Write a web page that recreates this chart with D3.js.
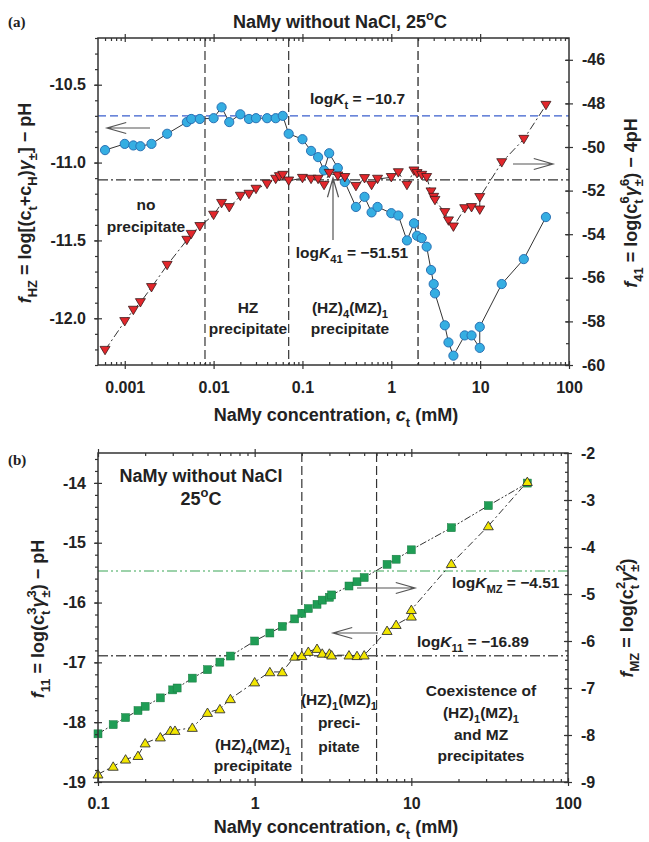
<!DOCTYPE html>
<html>
<head>
<meta charset="utf-8">
<script src="https://cdn.jsdelivr.net/npm/d3@7"></script>
<style>
body { margin: 0; background: #fff; }
text { font-family: "Liberation Sans", Arial, sans-serif; font-weight: bold; fill: #222; }
</style>
</head>
<body>
<script>
// ---- panel (a) data: NaMy concentration (mM) vs f_HZ (left) and f_41 (right)
var aHZConc = [0.0006, 0.001, 0.00125, 0.0015, 0.002, 0.003, 0.005, 0.0056, 0.007, 0.01, 0.0123, 0.015, 0.02, 0.025, 0.03, 0.04, 0.05, 0.06, 0.07, 0.1, 0.125, 0.15, 0.175, 0.2, 0.25, 0.3, 0.4, 0.5, 0.6, 0.7, 1.0, 1.2, 1.5, 1.8, 1.95, 2.2, 2.5, 2.8, 3.0, 3.1, 4.0, 4.4, 5.0, 6.7, 8.0, 9.9, 9.9, 17.5, 31, 55];
var aHZ = [-10.92, -10.88, -10.89, -10.895, -10.88, -10.815, -10.74, -10.72, -10.72, -10.715, -10.645, -10.74, -10.69, -10.72, -10.715, -10.715, -10.715, -10.70, -10.815, -10.85, -10.925, -10.965, -11.05, -10.94, -11.035, -11.125, -11.285, -11.22, -11.32, -11.285, -11.325, -11.34, -11.50, -11.39, -11.47, -11.485, -11.54, -11.69, -11.78, -11.84, -12.045, -12.155, -12.24, -12.11, -12.11, -12.19, -12.055, -11.78, -11.62, -11.35];
var a41Conc = [0.0006, 0.001, 0.00125, 0.0015, 0.002, 0.003, 0.005, 0.0056, 0.007, 0.01, 0.0123, 0.015, 0.02, 0.025, 0.03, 0.04, 0.05, 0.055, 0.06, 0.07, 0.1, 0.125, 0.15, 0.175, 0.2, 0.25, 0.3, 0.4, 0.5, 0.6, 0.7, 1.0, 1.2, 1.5, 1.8, 1.95, 2.2, 2.5, 2.8, 3.0, 3.1, 4.0, 4.4, 5.0, 6.7, 8.0, 9.9, 9.9, 17.5, 31, 55];
var a41 = [-59.32, -58.0, -57.48, -57.13, -56.44, -55.42, -54.27, -54.0, -53.64, -53.12, -52.58, -52.77, -52.25, -52.16, -51.93, -51.70, -51.47, -51.35, -51.29, -51.55, -51.43, -51.47, -51.47, -51.75, -51.2, -51.32, -51.39, -51.8, -51.44, -51.75, -51.47, -51.39, -51.17, -51.75, -51.09, -51.21, -51.29, -51.39, -52.05, -52.3, -52.44, -53.0, -53.38, -53.66, -52.82, -52.77, -52.88, -52.31, -50.71, -49.64, -48.08];
var aLogKt = -10.7, aLogK41 = -51.51;
var aBounds = [0.008, 0.07, 2];
var aTicksX = [0.001, 0.01, 0.1, 1, 10, 100];
var aTickLabelsX = ["0.001", "0.01", "0.1", "1", "10", "100"];
var aTicksL = [-12.0, -11.5, -11.0, -10.5];
var aTickLabelsL = ["-12.0", "-11.5", "-11.0", "-10.5"];
var aTicksR = [-60, -58, -56, -54, -52, -50, -48, -46];

// ---- panel (b) data: f_MZ (right, squares) and f_11 (left, triangles)
var bMZConc = [0.1, 0.125, 0.15, 0.18, 0.2, 0.25, 0.3, 0.32, 0.4, 0.5, 0.6, 0.7, 1.0, 1.25, 1.5, 1.8, 2.0, 2.2, 2.5, 2.7, 3.0, 3.1, 4.0, 4.5, 5.0, 7.0, 8.0, 10, 18, 31, 55];
var bMZ = [-7.975, -7.78, -7.63, -7.48, -7.39, -7.21, -7.04, -7.0, -6.79, -6.61, -6.45, -6.32, -6.0, -5.83, -5.69, -5.53, -5.41, -5.31, -5.22, -5.13, -5.07, -5.02, -4.83, -4.74, -4.65, -4.37, -4.26, -4.06, -3.59, -3.12, -2.64];
var b11Conc = [0.1, 0.125, 0.15, 0.18, 0.2, 0.25, 0.29, 0.31, 0.4, 0.5, 0.6, 0.7, 1.0, 1.25, 1.5, 1.8, 2.0, 2.2, 2.5, 2.7, 3.0, 3.1, 4.0, 4.5, 5.0, 7.0, 8.0, 10, 10, 18, 31, 55];
var b11 = [-18.87, -18.74, -18.62, -18.56, -18.35, -18.25, -18.14, -18.14, -18.09, -17.84, -17.78, -17.61, -17.33, -17.16, -17.16, -16.90, -16.89, -16.82, -16.77, -16.85, -16.85, -16.88, -16.88, -16.89, -16.88, -16.47, -16.37, -16.23, -16.12, -15.35, -14.72, -13.98];
var bLogKMZ = -4.51, bLogK11 = -16.89;
var bBounds = [2, 6];
var bTicksX = [0.1, 1, 10, 100];
var bTickLabelsX = ["0.1", "1", "10", "100"];
var bTicksL = [-19, -18, -17, -16, -15, -14];
var bTicksR = [-9, -8, -7, -6, -5, -4, -3, -2];

var svg = d3.select("body").append("svg").attr("width", 649).attr("height", 842);

function rich(parent, x, y, parts, size, anchor, rotate) {
    var t = parent.append("text")
        .attr("font-size", size)
        .attr("text-anchor", anchor || "start");
    if (rotate) t.attr("transform", "translate(" + x + "," + y + ") rotate(" + rotate + ")");
    else t.attr("x", x).attr("y", y);
    var shift = 0;
    parts.forEach(function (p) {
        if (typeof p === "string") p = {t: p};
        var target = p.sub ? size * 0.32 : (p.sup ? -size * 0.42 : 0);
        var s = t.append("tspan").text(p.t).attr("dy", target - shift);
        shift = target;
        if (p.sub || p.sup) s.attr("font-size", size * 0.72);
        if (p.it) s.attr("font-style", "italic");
        if (p.dx) s.attr("dx", p.dx);
    });
    return t;
}

function logMinors(domain) {
    var out = [];
    for (var d = Math.floor(Math.log10(domain[0])); d <= Math.ceil(Math.log10(domain[1])); d++) {
        for (var k = 2; k <= 9; k++) {
            var v = k * Math.pow(10, d);
            if (v > domain[0] && v < domain[1]) out.push(v);
        }
    }
    return out;
}

function styleAxis(sel) {
    sel.attr("font-size", 16).attr("font-family", '"Liberation Sans", Arial, sans-serif')
        .attr("font-weight", "bold").attr("color", "#333");
    sel.select(".domain").remove();
    sel.selectAll(".tick line").attr("stroke-width", 1.2);
}

function drawAxes(g, x, yL, yR, w, h, o) {
    // bottom
    var b = g.append("g").attr("transform", "translate(0," + h + ")")
        .call(d3.axisBottom(x).tickValues(o.xt).tickFormat(function (d, i) { return o.xl[i]; })
            .tickSize(4).tickPadding(o.xpad));
    styleAxis(b);
    b.selectAll(".tick line").attr("y1", -4);
    var bm = g.append("g").attr("transform", "translate(0," + h + ")")
        .call(d3.axisBottom(x).tickValues(logMinors(x.domain())).tickFormat("").tickSize(-3));
    styleAxis(bm);
    // top
    var t = g.append("g").call(d3.axisTop(x).tickValues(o.xt.filter(function (d) { return d < x.domain()[1]; })).tickFormat("").tickSize(4));
    styleAxis(t);
    t.selectAll(".tick line").attr("y1", 4);
    var tm = g.append("g").call(d3.axisTop(x).tickValues(logMinors(x.domain())).tickFormat("").tickSize(-3));
    styleAxis(tm);
    // left
    var l = g.append("g").call(d3.axisLeft(yL).tickValues(o.ylt).tickFormat(function (d, i) { return o.yll[i]; })
        .tickSize(4).tickPadding(8));
    styleAxis(l);
    l.selectAll(".tick line").attr("x1", 4);
    var lm = g.append("g").call(d3.axisLeft(yL).tickValues(d3.range(yL.domain()[0], yL.domain()[1] + 1e-9, o.lstep)).tickFormat("").tickSize(3));
    styleAxis(lm);
    // right
    var r = g.append("g").attr("transform", "translate(" + w + ",0)")
        .call(d3.axisRight(yR).tickValues(o.yrt).tickFormat(function (d) { return String(d); })
            .tickSize(4).tickPadding(9));
    styleAxis(r);
    r.selectAll(".tick line").attr("x1", -4);
    var rm = g.append("g").attr("transform", "translate(" + w + ",0)")
        .call(d3.axisRight(yR).tickValues(d3.range(yR.domain()[0], yR.domain()[1] + 1e-9, o.rstep)).tickFormat("").tickSize(-3));
    styleAxis(rm);
    g.append("rect").attr("width", w).attr("height", h)
        .attr("fill", "none").attr("stroke", "#333").attr("stroke-width", 1.5);
}

function arrow(g, x1, y1, x2, y2) {
    // shaft from (x1,y1) to tip (x2,y2), open head
    var ang = Math.atan2(y2 - y1, x2 - x1), L = 20, s = 0.28;
    var p = "M" + x1 + "," + y1 + "L" + x2 + "," + y2 +
        "M" + (x2 - L * Math.cos(ang - s)) + "," + (y2 - L * Math.sin(ang - s)) + "L" + x2 + "," + y2 +
        "L" + (x2 - L * Math.cos(ang + s)) + "," + (y2 - L * Math.sin(ang + s));
    g.append("path").attr("d", p).attr("fill", "none").attr("stroke", "#555").attr("stroke-width", 1.2);
}

var triDown = "M-5,-3.8L5,-3.8L0,4.6Z";
var triUp = "M0,-4.6L5,3.8L-5,3.8Z";

// ================= panel (a) =================
var aw = 471, ah = 327;
var ga = svg.append("g").attr("transform", "translate(98,38)");
var xa = d3.scaleLog().domain([0.0005, 100]).range([0, aw]);
var yaL = d3.scaleLinear().domain([-12.3, -10.2]).range([ah, 0]);
var yaR = d3.scaleLinear().domain([-60, -45]).range([ah, 0]);

ga.selectAll(".vb").data(aBounds).enter().append("line")
    .attr("x1", function (d) { return xa(d); }).attr("x2", function (d) { return xa(d); })
    .attr("y1", 0).attr("y2", ah)
    .attr("stroke", function (d, i) { return i === 2 ? "#666" : "#333"; })
    .attr("stroke-width", function (d, i) { return i === 2 ? 1.8 : 1.2; })
    .attr("stroke-dasharray", "9,4");
ga.append("line").attr("x1", 0).attr("x2", aw).attr("y1", yaL(aLogKt)).attr("y2", yaL(aLogKt))
    .attr("stroke", "#3a5fcd").attr("stroke-width", 1.2).attr("stroke-dasharray", "8,4");
ga.append("line").attr("x1", 0).attr("x2", aw).attr("y1", yaR(aLogK41)).attr("y2", yaR(aLogK41))
    .attr("stroke", "#333").attr("stroke-width", 1.2).attr("stroke-dasharray", "10,3,2,3");

var aHZPts = aHZConc.map(function (c, i) { return [c, aHZ[i]]; });
var a41Pts = a41Conc.map(function (c, i) { return [c, a41[i]]; });

ga.append("path").datum(aHZPts)
    .attr("d", d3.line().x(function (d) { return xa(d[0]); }).y(function (d) { return yaL(d[1]); }))
    .attr("fill", "none").attr("stroke", "#333").attr("stroke-width", 1);
ga.append("path").datum(a41Pts)
    .attr("d", d3.line().x(function (d) { return xa(d[0]); }).y(function (d) { return yaR(d[1]); }))
    .attr("fill", "none").attr("stroke", "#333").attr("stroke-width", 1).attr("stroke-dasharray", "8,3,2,3");

ga.selectAll(".hz").data(aHZPts).enter().append("circle")
    .attr("cx", function (d) { return xa(d[0]); }).attr("cy", function (d) { return yaL(d[1]); })
    .attr("r", 4.6).attr("fill", "#35aee2").attr("stroke", "#2a72b5").attr("stroke-width", 1);
ga.selectAll(".f41").data(a41Pts).enter().append("path")
    .attr("transform", function (d) { return "translate(" + xa(d[0]) + "," + yaR(d[1]) + ")"; })
    .attr("d", triDown).attr("fill", "#e2262b").attr("stroke", "#3a1a1a").attr("stroke-width", 0.8);

drawAxes(ga, xa, yaL, yaR, aw, ah, {xt: aTicksX, xl: aTickLabelsX, xpad: 13, ylt: aTicksL, yll: aTickLabelsL, yrt: aTicksR, lstep: 0.1, rstep: 1});

// annotations (a)
arrow(svg, 150, 128, 107, 128);
arrow(svg, 513, 164, 553, 164);
arrow(svg, 333, 240, 333, 178);

svg.append("text").attr("x", 8).attr("y", 27).attr("font-size", 15)
    .style("font-family", '"Liberation Serif", "Times New Roman", serif').text("(a)");
rich(svg, 340, 28, ["NaMy without NaCl, 25", {t: "o", sup: true}, "C"], 18, "middle");
rich(svg, 310, 104, ["log", {t: "K", it: true}, {t: "t", sub: true}, " = \u221210.7"], 15.5, "start");
rich(svg, 352, 258, ["log", {t: "K", it: true}, {t: "41", sub: true}, " = \u221251.51"], 15.5, "middle");
svg.append("text").attr("x", 146).attr("y", 210).attr("font-size", 15.5).attr("text-anchor", "middle").text("no");
svg.append("text").attr("x", 146).attr("y", 232).attr("font-size", 15.5).attr("text-anchor", "middle").text("precipitate");
svg.append("text").attr("x", 248).attr("y", 313).attr("font-size", 15.5).attr("text-anchor", "middle").text("HZ");
svg.append("text").attr("x", 248).attr("y", 334).attr("font-size", 15.5).attr("text-anchor", "middle").text("precipitate");
rich(svg, 350, 313, ["(HZ)", {t: "4", sub: true}, "(MZ)", {t: "1", sub: true}], 15.5, "middle");
svg.append("text").attr("x", 350).attr("y", 334).attr("font-size", 15.5).attr("text-anchor", "middle").text("precipitate");

rich(svg, 336, 421, ["NaMy concentration, ", {t: "c", it: true}, {t: "t", sub: true}, " (mM)"], 18, "middle");
rich(svg, 31, 203, [{t: "f", it: true}, {t: "HZ", sub: true}, " = log[(c", {t: "t", sub: true}, "+c", {t: "H", sub: true}, ")",
    {t: "\u03b3", it: true}, {t: "\u00b1", sub: true}, "] \u2212 pH"], 18, "middle", -90);
rich(svg, 637, 203, [{t: "f", it: true}, {t: "41", sub: true}, " = log(c", {t: "t", sub: true}, {t: "6", sup: true, dx: -4},
    {t: "\u03b3", it: true}, {t: "\u00b1", sub: true}, {t: "6", sup: true, dx: -7}, ") \u2212 4pH"], 18, "middle", -90);

// ================= panel (b) =================
var bw = 470, bh = 329;
var gb = svg.append("g").attr("transform", "translate(98,453)");
var xb = d3.scaleLog().domain([0.1, 100]).range([0, bw]);
var ybL = d3.scaleLinear().domain([-19, -13.5]).range([bh, 0]);
var ybR = d3.scaleLinear().domain([-9, -2]).range([bh, 0]);

gb.selectAll(".vb").data(bBounds).enter().append("line")
    .attr("x1", function (d) { return xb(d); }).attr("x2", function (d) { return xb(d); })
    .attr("y1", 0).attr("y2", bh)
    .attr("stroke", "#333").attr("stroke-width", 1.2).attr("stroke-dasharray", "9,4");
gb.append("line").attr("x1", 0).attr("x2", bw).attr("y1", ybR(bLogKMZ)).attr("y2", ybR(bLogKMZ))
    .attr("stroke", "#7cc48f").attr("stroke-width", 1.4).attr("stroke-dasharray", "10,3,2,3,2,3");
gb.append("line").attr("x1", 0).attr("x2", bw).attr("y1", ybL(bLogK11)).attr("y2", ybL(bLogK11))
    .attr("stroke", "#555").attr("stroke-width", 1.4).attr("stroke-dasharray", "10,3,2,3");

var bMZPts = bMZConc.map(function (c, i) { return [c, bMZ[i]]; });
var b11Pts = b11Conc.map(function (c, i) { return [c, b11[i]]; });

gb.append("path").datum(bMZPts)
    .attr("d", d3.line().x(function (d) { return xb(d[0]); }).y(function (d) { return ybR(d[1]); }))
    .attr("fill", "none").attr("stroke", "#333").attr("stroke-width", 1).attr("stroke-dasharray", "7,2,2,2,2,2");
gb.append("path").datum(b11Pts)
    .attr("d", d3.line().x(function (d) { return xb(d[0]); }).y(function (d) { return ybL(d[1]); }))
    .attr("fill", "none").attr("stroke", "#333").attr("stroke-width", 1).attr("stroke-dasharray", "7,3,2,3");

gb.selectAll(".mz").data(bMZPts).enter().append("rect")
    .attr("x", function (d) { return xb(d[0]) - 4; }).attr("y", function (d) { return ybR(d[1]) - 4; })
    .attr("width", 8).attr("height", 8).attr("fill", "#1f9d55").attr("stroke", "#1a7a40").attr("stroke-width", 0.5);
gb.selectAll(".f11").data(b11Pts).enter().append("path")
    .attr("transform", function (d) { return "translate(" + xb(d[0]) + "," + ybL(d[1]) + ")"; })
    .attr("d", triUp).attr("fill", "#f2e600").attr("stroke", "#333").attr("stroke-width", 0.9);

drawAxes(gb, xb, ybL, ybR, bw, bh, {xt: bTicksX, xl: bTickLabelsX, xpad: 12, ylt: bTicksL, yll: bTicksL.map(String), yrt: bTicksR, lstep: 0.2, rstep: 0.2});

// annotations (b)
arrow(svg, 357, 588, 415, 588);
arrow(svg, 378, 633, 333, 633);

svg.append("text").attr("x", 8).attr("y", 465).attr("font-size", 15)
    .style("font-family", '"Liberation Serif", "Times New Roman", serif').text("(b)");
svg.append("text").attr("x", 201).attr("y", 482).attr("font-size", 18).attr("text-anchor", "middle").text("NaMy without NaCl");
rich(svg, 201, 505, ["25", {t: "o", sup: true}, "C"], 18, "middle");
rich(svg, 452, 588, ["log", {t: "K", it: true}, {t: "MZ", sub: true}, " = \u22124.51"], 15.5, "start");
rich(svg, 417, 647, ["log", {t: "K", it: true}, {t: "11", sub: true}, " = \u221216.89"], 15.5, "start");
rich(svg, 339, 705, ["(HZ)", {t: "1", sub: true}, "(MZ)", {t: "1", sub: true}], 15.5, "middle");
svg.append("text").attr("x", 339).attr("y", 728).attr("font-size", 15.5).attr("text-anchor", "middle").text("preci-");
svg.append("text").attr("x", 339).attr("y", 752).attr("font-size", 15.5).attr("text-anchor", "middle").text("pitate");
rich(svg, 253, 750, ["(HZ)", {t: "4", sub: true}, "(MZ)", {t: "1", sub: true}], 15.5, "middle");
svg.append("text").attr("x", 253).attr("y", 771).attr("font-size", 15.5).attr("text-anchor", "middle").text("precipitate");
svg.append("text").attr("x", 481).attr("y", 696).attr("font-size", 15.5).attr("text-anchor", "middle").text("Coexistence of");
rich(svg, 481, 718, ["(HZ)", {t: "1", sub: true}, "(MZ)", {t: "1", sub: true}], 15.5, "middle");
svg.append("text").attr("x", 481).attr("y", 740).attr("font-size", 15.5).attr("text-anchor", "middle").text("and MZ");
svg.append("text").attr("x", 481).attr("y", 761).attr("font-size", 15.5).attr("text-anchor", "middle").text("precipitates");

rich(svg, 336, 833, ["NaMy concentration, ", {t: "c", it: true}, {t: "t", sub: true}, " (mM)"], 18, "middle");
rich(svg, 44, 619, [{t: "f", it: true}, {t: "11", sub: true}, " = log(c", {t: "t", sub: true}, {t: "3", sup: true, dx: -4},
    {t: "\u03b3", it: true}, {t: "\u00b1", sub: true}, {t: "3", sup: true, dx: -7}, ") \u2212 pH"], 18, "middle", -90);
rich(svg, 633, 618, [{t: "f", it: true}, {t: "MZ", sub: true}, " = log(c", {t: "t", sub: true}, {t: "2", sup: true, dx: -4},
    {t: "\u03b3", it: true}, {t: "\u00b1", sub: true}, {t: "2", sup: true, dx: -7}, ")"], 18, "middle", -90);
</script>
</body>
</html>
